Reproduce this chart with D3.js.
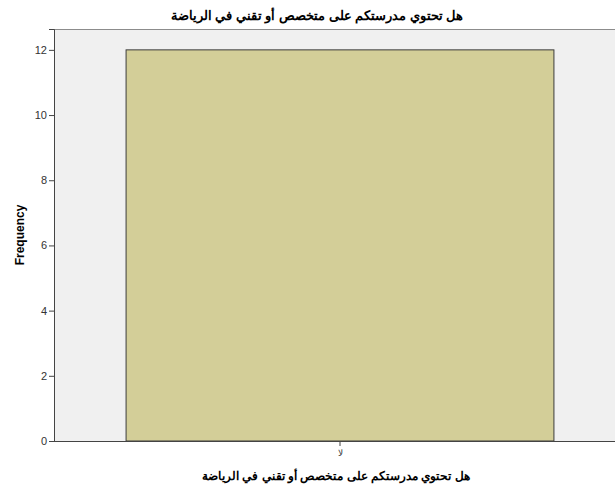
<!DOCTYPE html>
<html><head><meta charset="utf-8">
<script src="https://cdn.jsdelivr.net/npm/d3@7"></script>
<style>body{margin:0;background:#fff}</style>
</head><body>
<svg id="c" width="615" height="493"></svg>
<script>
const categories = ["لا"];
const frequencies = [12];
const yTicks = [0, 2, 4, 6, 8, 10, 12];
const title = "هل تحتوي مدرستكم على متخصص أو تقني في الرياضة";
const xLabel = "هل تحتوي مدرستكم على متخصص أو تقني في الرياضة";
const yLabel = "Frequency";

const svg = d3.select("#c");
const m = {left: 54, top: 29, right: 626, bottom: 441};
const x = d3.scaleBand().domain(categories).range([m.left, m.right]).paddingInner(0.252).paddingOuter(0.126);
const y = d3.scaleLinear().domain([0, 12.64]).range([m.bottom, m.top]);

svg.append("rect").attr("x", m.left).attr("y", m.top).attr("width", m.right - m.left).attr("height", m.bottom - m.top).attr("fill", "#f0f0f0");
svg.append("line").attr("x1", m.left).attr("x2", 615).attr("y1", m.top + 0.5).attr("y2", m.top + 0.5).attr("stroke", "#8c8c8c").attr("stroke-width", 1);

svg.selectAll("rect.bar").data(categories).enter().append("rect").attr("class", "bar")
  .attr("x", d => x(d)).attr("width", x.bandwidth())
  .attr("y", (d, i) => y(frequencies[i])).attr("height", (d, i) => y(0) - y(frequencies[i]))
  .attr("fill", "#d3ce98").attr("stroke", "#3c3c3c").attr("stroke-width", 1);

const yAxis = d3.axisLeft(y).tickValues(yTicks).tickSize(5).tickPadding(2).tickFormat(d3.format("d"));
const ga = svg.append("g").attr("transform", `translate(${m.left},0)`).call(yAxis);
ga.select(".domain").attr("stroke", "#444");
ga.selectAll(".tick line").attr("stroke", "#444");
ga.selectAll("text").attr("font-family", "Arial, Liberation Sans, sans-serif").attr("font-size", 11).attr("fill", "#333");

const xAxis = d3.axisBottom(x).tickSize(5).tickPadding(4);
const gx = svg.append("g").attr("transform", `translate(0,${m.bottom})`).call(xAxis);
gx.select(".domain").remove();
svg.append("line").attr("x1", m.left).attr("x2", 615).attr("y1", m.bottom + 0.5).attr("y2", m.bottom + 0.5).attr("stroke", "#444");
gx.selectAll(".tick line").attr("stroke", "#444");
gx.selectAll("text").attr("font-family", "Arial, Liberation Sans, sans-serif").attr("font-size", 9).attr("fill", "#333");

svg.append("text").attr("x", 317).attr("y", 20).attr("text-anchor", "middle")
  .attr("font-family", "Arial, Liberation Sans, sans-serif").attr("font-size", 13).attr("font-weight", "bold").attr("direction", "rtl").text(title);
svg.append("text").attr("x", 336).attr("y", 480).attr("text-anchor", "middle")
  .attr("font-family", "Arial, Liberation Sans, sans-serif").attr("font-size", 12).attr("font-weight", "bold").attr("direction", "rtl").text(xLabel);
svg.append("text").attr("transform", "translate(24,235) rotate(-90)").attr("text-anchor", "middle")
  .attr("font-family", "Arial, Liberation Sans, sans-serif").attr("font-size", 12).attr("font-weight", "bold").text(yLabel);
</script>
</body></html>
